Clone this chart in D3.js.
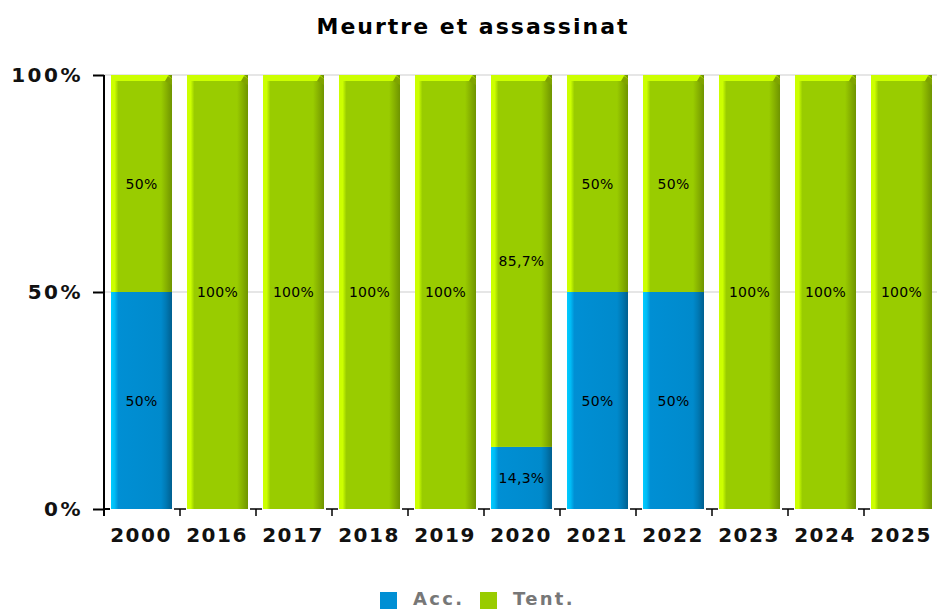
<!DOCTYPE html>
<html>
<head>
<meta charset="utf-8">
<script src="https://cdn.jsdelivr.net/npm/d3@7"></script>
<style>
body{margin:0;background:#fff;}
text{font-family:"DejaVu Sans",sans-serif;}
</style>
</head>
<body>
<div id="chart"></div>
<script>
var years=["2000","2016","2017","2018","2019","2020","2021","2022","2023","2024","2025"];
var acc=[50,0,0,0,0,14.3,50,50,0,0,0];
var tent=[50,100,100,100,100,85.7,50,50,100,100,100];
var yTicks=[0,50,100];
var seriesNames=["Acc.","Tent."];

var w=937,h=609;
var pLeft=104,pRight=940,pTop=75,pBottom=509;

var svg=d3.select("#chart").append("svg")
    .attr("width",w).attr("height",h);

var defs=svg.append("defs");
function grad(id,stops){
    var g=defs.append("linearGradient").attr("id",id)
        .attr("x1","0%").attr("x2","100%").attr("y1","0%").attr("y2","0%");
    stops.forEach(function(s){
        g.append("stop").attr("offset",s[0]).attr("stop-color",s[1]);
    });
}
grad("gGreen",[["0%","#ccff00"],["6%","#ccff00"],["12%","#99cc00"],["82%","#99cc00"],["90%","#88b300"],["100%","#6f9400"]]);
grad("gBlue",[["0%","#00ccff"],["6%","#00bbf5"],["12%","#008fd4"],["82%","#008acc"],["90%","#007ab5"],["100%","#005f8f"]]);

var data=years.map(function(y,i){return {year:y,acc:acc[i],tent:tent[i]};});
var stack=d3.stack().keys(["acc","tent"])(data);

var xScale=d3.scaleBand().domain(years).range([pLeft,pRight]);
var yScale=d3.scaleLinear().domain([0,100]).range([pBottom,pTop]);

// grid
svg.selectAll(".grid").data(yTicks.slice(1)).enter().append("line")
    .attr("x1",pLeft).attr("x2",w)
    .attr("y1",function(d){return yScale(d);})
    .attr("y2",function(d){return yScale(d);})
    .style("stroke","#e6e6e6").style("stroke-width",2);

var fills={acc:"url(#gBlue)",tent:"url(#gGreen)"};
var bw=61;

stack.forEach(function(layer){
    svg.append("g").selectAll("rect").data(layer).enter().append("rect")
        .attr("x",function(d){return xScale(d.data.year)+7;})
        .attr("width",bw)
        .attr("y",function(d){return yScale(d[1]);})
        .attr("height",function(d){return yScale(d[0])-yScale(d[1]);})
        .attr("fill",fills[layer.key]);
});

// bevel top of stacks
svg.append("g").selectAll("path").data(stack[1]).enter().append("path")
    .attr("d",function(d){
        var x=xScale(d.data.year)+7,y=yScale(d[1]);
        return "M"+x+","+(y+4)+"L"+(x+3)+","+y+"L"+(x+bw-4)+","+y+"L"+(x+bw)+","+(y+4)+"L"+(x+bw)+","+(y+6)+"L"+x+","+(y+6)+"Z";
    })
    .attr("fill","#ccff00");
svg.append("g").selectAll("path").data(stack[1]).enter().append("path")
    .attr("d",function(d){
        var x=xScale(d.data.year)+7,y=yScale(d[1]);
        return "M"+(x+bw-7)+","+(y+6)+"L"+(x+bw-4)+","+(y+1)+"L"+(x+bw)+","+(y+4)+"L"+(x+bw)+","+(y+10)+"Z";
    })
    .attr("fill","#7fa300");

// value labels
function fmt(v){return String(v).replace(".",",")+"%";}
stack.forEach(function(layer){
    svg.append("g").selectAll("text").data(layer.filter(function(d){return d[1]-d[0]>0;})).enter().append("text")
        .attr("x",function(d){return xScale(d.data.year)+7+bw/2;})
        .attr("y",function(d){return (yScale(d[0])+yScale(d[1]))/2+5;})
        .attr("text-anchor","middle")
        .style("font-size","14px").style("letter-spacing","0.3px")
        .text(function(d){return fmt(Math.round((d[1]-d[0])*10)/10);});
});

// y axis
var yAxis=d3.axisLeft(yScale).tickValues(yTicks).tickSize(11).tickPadding(10)
    .tickFormat(function(d){return d+"%";});
var gy=svg.append("g").attr("transform","translate("+pLeft+",0)").call(yAxis);
gy.select(".domain").attr("d","M0,"+pTop+"V"+(pBottom+7)).style("stroke","#000").style("stroke-width",2);
gy.selectAll(".tick line").style("stroke-width",2);
gy.selectAll("text").style("font-size","20px").style("font-weight","bold").style("letter-spacing","2.5px")
    .style("font-family","'DejaVu Sans',sans-serif").attr("fill","#111");

// x axis
var xAxis=d3.axisBottom(xScale).tickSize(0).tickPadding(19);
var gx=svg.append("g").attr("transform","translate(0,"+pBottom+")").call(xAxis);
gx.select(".domain").remove();
gx.selectAll("text").style("font-size","20px").style("font-weight","bold").style("letter-spacing","1.5px")
    .style("font-family","'DejaVu Sans',sans-serif").attr("fill","#111").attr("dx","-1");
svg.append("line").attr("x1",pLeft).attr("x2",pLeft+6).attr("y1",pBottom).attr("y2",pBottom)
    .style("stroke","#000").style("stroke-width",2);
var bounds=years.slice(1);
svg.append("g").selectAll("line").data(bounds).enter().append("line")
    .attr("x1",function(d){return xScale(d);}).attr("x2",function(d){return xScale(d);})
    .attr("y1",pBottom).attr("y2",pBottom+7).style("stroke","#000").style("stroke-width",1.5);
svg.append("g").selectAll("line").data(bounds).enter().append("line")
    .attr("x1",function(d){return xScale(d)-6;}).attr("x2",function(d){return xScale(d)+6;})
    .attr("y1",pBottom).attr("y2",pBottom).style("stroke","#000").style("stroke-width",1.5);

// title
svg.append("text").attr("x",473).attr("y",34).attr("text-anchor","middle")
    .style("font-size","22px").style("font-weight","bold").style("letter-spacing","2px")
    .text("Meurtre et assassinat");

// legend
var legColors=["#008fd4","#99cc00"];
var legX=[380,480];
seriesNames.forEach(function(n,i){
    svg.append("rect").attr("x",legX[i]).attr("y",592).attr("width",17).attr("height",17).attr("fill",legColors[i]);
    svg.append("text").attr("x",legX[i]+33).attr("y",605)
        .style("font-size","18px").style("font-weight","bold").style("letter-spacing","2.3px")
        .attr("fill","#777").text(n);
});
</script>
</body>
</html>
